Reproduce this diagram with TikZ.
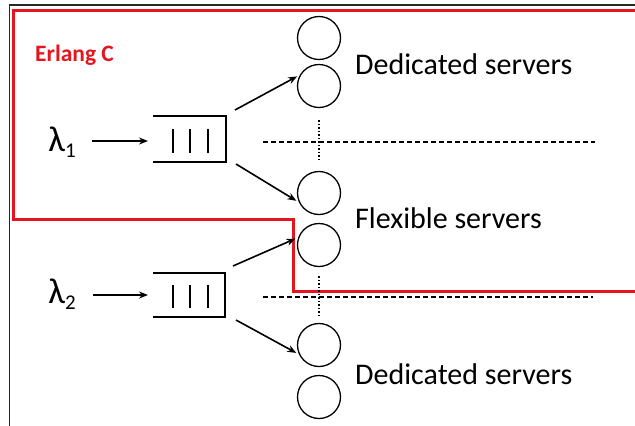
\documentclass[tikz,border=0pt]{standalone}
\usepackage{fontspec}
\setmainfont{Carlito}
\usetikzlibrary{arrows.meta}
\definecolor{erlangred}{RGB}{230,20,30}
\tikzset{
  server/.style={draw, circle, minimum size=43pt, inner sep=0pt, line width=1.3pt},
  flow/.style={-{Stealth[length=9pt,width=7pt]}, line width=1.6pt, shorten >=3pt},
  qbar/.style={line width=2.2pt},
  qbox/.style={line width=1.7pt},
  sep/.style={dash pattern=on 5pt off 3pt, line width=1.2pt},
  vsep/.style={dash pattern=on 1.5pt off 2pt, line width=1.3pt},
  label/.style={font=\fontsize{30}{32}\selectfont, anchor=west, inner sep=0pt},
  rate/.style={font=\fontsize{36}{38}\selectfont, inner sep=0pt},
}
\begin{document}
\begin{tikzpicture}[x=1pt,y=-1pt]
\useasboundingbox (0,0) rectangle (635,426);
\fill[white] (0,0) rectangle (635,426);
% outer frame
\draw[line width=1.5pt, black!85] (9.5,430) -- (9.5,5) -- (640,5);
% Erlang C region
\draw[erlangred, line width=3pt] (640,10) -- (13,10) -- (13,219) -- (293,219) -- (293,291) -- (640,291);
\node[erlangred, font=\fontsize{23.5}{25}\selectfont\bfseries, anchor=west, inner sep=0pt] (erl) at (35,55) {Erlang C};

% servers
\node[server] (s1) at (319,38) {};
\node[server] (s2) at (319,86) {};
\node[server] (s3) at (319,193) {};
\node[server] (s4) at (319,245) {};
\node[server] (s5) at (319,345) {};
\node[server] (s6) at (319,397) {};

\node[label] (d1) at (355,64) {Dedicated servers};
\node[label] (fx) at (355,218) {Flexible servers};
\node[label] (d2) at (355,374) {Dedicated servers};

% separators
\coordinate (h1a) at (263,142); \coordinate (h1b) at (595,142);
\coordinate (h2a) at (263,297); \coordinate (h2b) at (593,297);
\draw[sep] (h1a) -- (h1b);
\draw[sep] (h2a) -- (h2b);
\coordinate (v1a) at (319,120); \coordinate (v1b) at (319,161);
\coordinate (v2a) at (319,276); \coordinate (v2b) at (319,318);
\draw[vsep] (v1a) -- (v1b);
\draw[vsep] (v2a) -- (v2b);

% queue 1
\draw[qbox] (153,116) -- (226,116) -- (226,162) -- (153,162);
\foreach \x in {173,190,208} \draw[qbar] (\x,129) -- (\x,153);
\coordinate (q1in) at (148,141);
\coordinate (q1o1) at (235,110);
\coordinate (q1o2) at (236,164);
\node[rate] (l1) at (62,142) {λ\raisebox{-0.35ex}{\fontsize{21}{23}\selectfont 1}};
\coordinate (l1e) at (92,141);
\draw[flow, shorten >=0pt] (l1e) -- (q1in);
\draw[flow] (q1o1) -- (s2.150);
\draw[flow] (q1o2) -- (s3.205);

% queue 2
\draw[qbox] (153,273) -- (225,273) -- (225,317) -- (153,317);
\foreach \x in {173,190,208} \draw[qbar] (\x,285) -- (\x,308);
\coordinate (q2in) at (148,295);
\coordinate (q2o1) at (233,266);
\coordinate (q2o2) at (236,320);
\node[rate] (l2) at (62,294) {λ\raisebox{-0.35ex}{\fontsize{21}{23}\selectfont 2}};
\coordinate (l2e) at (93,295);
\draw[flow, shorten >=0pt] (l2e) -- (q2in);
\draw[flow] (q2o1) -- (s4.160);
\draw[flow] (q2o2) -- (s5.205);
\end{tikzpicture}
\end{document}
